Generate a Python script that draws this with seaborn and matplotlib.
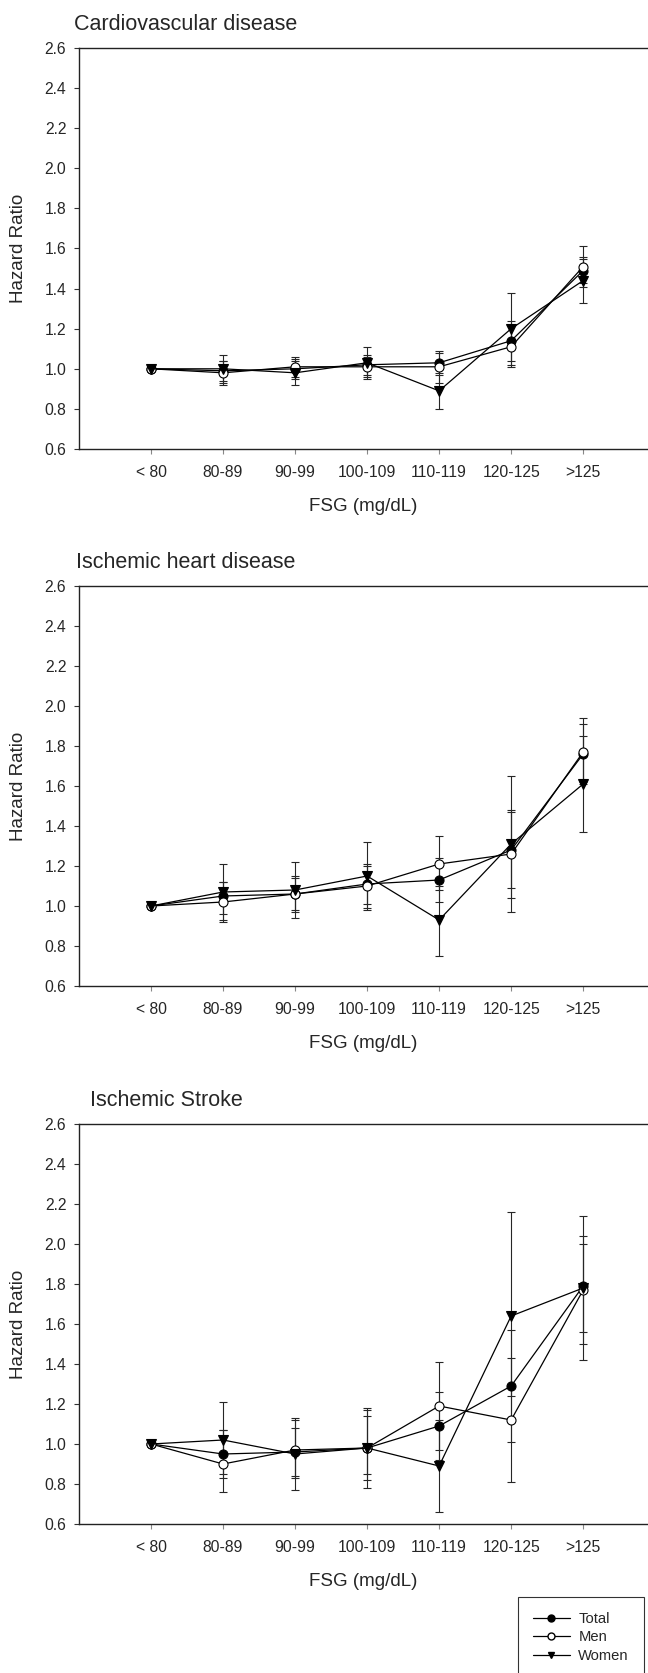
import numpy as np
import pandas as pd
import matplotlib
matplotlib.use("Agg")
import matplotlib.pyplot as plt
import seaborn as sns
from matplotlib.lines import Line2D

FSG_GROUPS = ["< 80", "80-89", "90-99", "100-109", "110-119", "120-125", ">125"]
GROUPS = ["Total", "Men", "Women"]
NA = np.nan

# Cardiovascular disease
CVD_TOTAL = [1.00, 0.99, 1.00, 1.02, 1.03, 1.14, 1.49]
CVD_TOTAL_LO = [NA, 0.94, 0.95, 0.97, 0.98, 1.02, 1.43]
CVD_TOTAL_HI = [NA, 1.04, 1.05, 1.07, 1.09, 1.24, 1.56]
CVD_MEN = [1.00, 0.98, 1.01, 1.01, 1.01, 1.11, 1.51]
CVD_MEN_LO = [NA, 0.92, 0.96, 0.96, 0.93, 1.01, 1.41]
CVD_MEN_HI = [NA, 1.04, 1.06, 1.06, 1.08, 1.22, 1.61]
CVD_WOMEN = [1.00, 1.00, 0.98, 1.03, 0.89, 1.20, 1.44]
CVD_WOMEN_LO = [NA, 0.93, 0.92, 0.95, 0.80, 1.04, 1.33]
CVD_WOMEN_HI = [NA, 1.07, 1.04, 1.11, 0.97, 1.38, 1.55]

# Ischemic heart disease
IHD_TOTAL = [1.00, 1.05, 1.06, 1.11, 1.13, 1.28, 1.76]
IHD_TOTAL_LO = [NA, 0.96, 0.97, 1.01, 1.02, 1.09, 1.62]
IHD_TOTAL_HI = [NA, 1.12, 1.15, 1.21, 1.24, 1.48, 1.91]
IHD_MEN = [1.00, 1.02, 1.06, 1.10, 1.21, 1.26, 1.77]
IHD_MEN_LO = [NA, 0.92, 0.98, 0.98, 1.08, 1.04, 1.61]
IHD_MEN_HI = [NA, 1.12, 1.14, 1.20, 1.35, 1.47, 1.94]
IHD_WOMEN = [1.00, 1.07, 1.08, 1.15, 0.93, 1.31, 1.61]
IHD_WOMEN_LO = [NA, 0.93, 0.94, 0.99, 0.75, 0.97, 1.37]
IHD_WOMEN_HI = [NA, 1.21, 1.22, 1.32, 1.10, 1.65, 1.85]

# Ischemic stroke
IS_TOTAL = [1.00, 0.95, 0.96, 0.98, 1.09, 1.29, 1.79]
IS_TOTAL_LO = [NA, 0.83, 0.84, 0.85, 0.92, 1.01, 1.56]
IS_TOTAL_HI = [NA, 1.07, 1.08, 1.14, 1.26, 1.43, 2.04]
IS_MEN = [1.00, 0.90, 0.97, 0.98, 1.19, 1.12, 1.77]
IS_MEN_LO = [NA, 0.76, 0.83, 0.82, 0.97, 0.81, 1.42]
IS_MEN_HI = [NA, 1.07, 1.13, 1.17, 1.41, 1.57, 2.00]
IS_WOMEN = [1.00, 1.02, 0.95, 0.98, 0.89, 1.64, 1.78]
IS_WOMEN_LO = [NA, 0.85, 0.77, 0.78, 0.66, 1.24, 1.50]
IS_WOMEN_HI = [NA, 1.21, 1.12, 1.18, 1.12, 2.16, 2.14]

PANELS = [
    ("Cardiovascular disease",
     [(CVD_TOTAL, CVD_TOTAL_LO, CVD_TOTAL_HI),
      (CVD_MEN, CVD_MEN_LO, CVD_MEN_HI),
      (CVD_WOMEN, CVD_WOMEN_LO, CVD_WOMEN_HI)]),
    ("Ischemic heart disease",
     [(IHD_TOTAL, IHD_TOTAL_LO, IHD_TOTAL_HI),
      (IHD_MEN, IHD_MEN_LO, IHD_MEN_HI),
      (IHD_WOMEN, IHD_WOMEN_LO, IHD_WOMEN_HI)]),
    ("Ischemic Stroke",
     [(IS_TOTAL, IS_TOTAL_LO, IS_TOTAL_HI),
      (IS_MEN, IS_MEN_LO, IS_MEN_HI),
      (IS_WOMEN, IS_WOMEN_LO, IS_WOMEN_HI)]),
]

STYLE = {
    "Total": dict(marker="o", markerfacecolor="black"),
    "Men": dict(marker="o", markerfacecolor="white"),
    "Women": dict(marker="v", markerfacecolor="black"),
}

sns.set_style("ticks")
plt.rcParams["font.family"] = ["Liberation Sans", "DejaVu Sans"]

W, H = 648, 1673
fig = plt.figure(figsize=(W / 100, H / 100), dpi=100)

# pixel layout of the three panels (top, bottom of the plotting area)
AX_LEFT, AX_RIGHT = 79, 648
PANEL_Y = [(48, 449), (586, 986), (1124, 1524)]
TITLE_X = [74, 76, 90]

for (title, series), (top, bottom), tx in zip(PANELS, PANEL_Y, TITLE_X):
    ax = fig.add_axes([AX_LEFT / W, 1 - bottom / H, (AX_RIGHT - AX_LEFT) / W, (bottom - top) / H])
    x = np.arange(len(FSG_GROUPS))
    rows = []
    for name, (hr, lo, hi) in zip(GROUPS, series):
        for i in range(len(FSG_GROUPS)):
            rows.append({"pos": x[i], "hr": hr[i], "lo": lo[i], "hi": hi[i], "group": name})
    df = pd.DataFrame(rows)

    for name in GROUPS:
        d = df[df["group"] == name]
        ax.errorbar(d["pos"], d["hr"], yerr=[d["hr"] - d["lo"], d["hi"] - d["hr"]],
                    fmt="none", ecolor="#262626", elinewidth=0.8, capsize=3, capthick=0.8, zorder=2)
    for name in GROUPS:
        d = df[df["group"] == name]
        sns.lineplot(data=d, x="pos", y="hr", ax=ax, color="black", linewidth=0.9,
                     markersize=6.5, markeredgecolor="black", markeredgewidth=0.8,
                     sort=False, legend=False, zorder=3, **STYLE[name])

    ax.set_xlim(-1, 6.9)
    ax.set_ylim(0.6, 2.6)
    ax.set_xticks(x)
    ax.set_xticklabels(FSG_GROUPS)
    ax.set_yticks(np.arange(0.6, 2.61, 0.2))
    ax.set_yticklabels([f"{v:.1f}" for v in np.arange(0.6, 2.61, 0.2)])
    ax.tick_params(axis="both", labelsize=11.3, length=3.6, width=0.8, color="#333333")
    ax.tick_params(axis="y", pad=5.5)
    ax.tick_params(axis="x", pad=8, color="#888888")
    for side in ["left", "bottom", "top"]:
        ax.spines[side].set_linewidth(1.0)
        ax.spines[side].set_color("#222222")
    ax.spines["right"].set_visible(False)
    ax.set_facecolor("white")

    hgt = bottom - top
    ax.set_xlabel("FSG (mg/dL)", fontsize=13.5)
    ax.xaxis.label.set_va("center")
    ax.xaxis.set_label_coords(0.5, -58 / hgt)
    ax.set_ylabel("Hazard Ratio", fontsize=13.5)
    ax.yaxis.label.set_va("center")
    ax.yaxis.set_label_coords((19 - AX_LEFT) / (AX_RIGHT - AX_LEFT), 0.5)

    fig.text(tx / W, 1 - (top - 24) / H, title, fontsize=15.5, ha="left", va="center")

handles = [
    Line2D([], [], color="black", linewidth=0.9, markersize=5, markeredgecolor="black", **STYLE[g])
    for g in GROUPS
]
leg = fig.legend(handles, GROUPS, loc="upper left", bbox_to_anchor=(518 / W, 1 - 1597 / H),
                 frameon=True, fancybox=False, edgecolor="black", fontsize=10.6,
                 handlelength=2.5, handletextpad=0.6, borderpad=1.0, labelspacing=0.32,
                 borderaxespad=0)
leg.get_frame().set_linewidth(0.8)

fig.savefig("out.png", dpi=100, facecolor="white")
